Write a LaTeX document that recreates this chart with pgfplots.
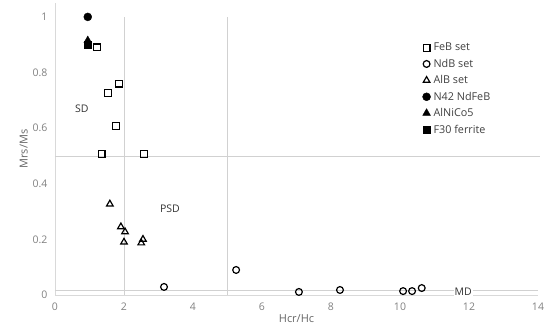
\documentclass[border=0pt]{standalone}
\usepackage{pgfplots}
\pgfplotsset{compat=1.18}
\usepackage{fontspec}
\setmainfont{Open Sans}
\begin{document}
\begin{tikzpicture}
\useasboundingbox (-55pt,-36pt) rectangle (495pt,295pt);
\begin{axis}[
 scale only axis, width=483pt, height=292pt,
 xmin=0,xmax=14,ymin=0,ymax=1.05,
 axis x line=bottom, axis y line=left,
 axis line style={draw=black!15,-,line width=0.8pt},
 xtick={0,2,...,14}, ytick={0,0.2,0.4,0.6,0.8,1},
 yticklabels={0,0.2,0.4,0.6,0.8,1},
 major tick length=0pt,
 ticklabel style={font=\fontsize{10.5}{12}\selectfont, text=black!50},
 xticklabel style={yshift=-4pt},
 yticklabel style={xshift=-4pt},
 /pgf/number format/assume math mode=true,
 xlabel={Hcr/Hc}, ylabel={Mrs/Ms},
 label style={font=\fontsize{11}{12}\selectfont, text=black!60},
 xlabel style={yshift=2pt},
 ylabel style={yshift=-2pt},
 legend style={at={(axis cs:10.62,0.914)}, anchor=north west, draw=none, fill=none,
   font=\fontsize{10.8}{11}\selectfont, text=black!75, row sep=4.3pt, inner sep=1pt,
   nodes={inner ysep=1.2pt, inner xsep=3pt}},
 legend cell align=left,
 clip=false,
]
\addplot[black!18, line width=0.8pt, forget plot] coordinates {(2,0) (2,1)};
\addplot[black!18, line width=0.8pt, forget plot] coordinates {(5,0) (5,1)};
\addplot[black!18, line width=0.8pt, forget plot] coordinates {(0,0.5) (14.05,0.5)};
\addplot[black!18, line width=0.8pt, forget plot] coordinates {(0,0.016) (14,0.016)};

\addplot[only marks, mark=square, mark size=3.4pt, line width=1.2pt, black] coordinates {
 (1.22,0.89) (1.54,0.727) (1.86,0.76) (1.77,0.608) (1.35,0.508) (2.58,0.508)};
\addlegendentry{FeB set}
\addplot[only marks, mark=o, mark size=3.4pt, line width=1.2pt, black] coordinates {
 (3.16,0.029) (5.25,0.09) (7.07,0.011) (8.26,0.018) (10.09,0.014) (10.35,0.014) (10.63,0.025)};
\addlegendentry{NdB set}
\addplot[only marks, mark=triangle, mark size=3.8pt, line width=1.2pt, black] coordinates {
 (1.59,0.327) (1.91,0.245) (2.03,0.227) (2.0,0.19) (2.55,0.20) (2.5,0.187)};
\addlegendentry{AlB set}
\addplot[only marks, mark=*, mark size=4pt, black] coordinates {(0.95,1.0)};
\addlegendentry{N42 NdFeB}
\addplot[only marks, mark=triangle*, mark size=4.5pt, black] coordinates {(0.95,0.915)};
\addlegendentry{AlNiCo5}
\addplot[only marks, mark=square*, mark size=3.6pt, black] coordinates {(0.95,0.9)};
\addlegendentry{F30 ferrite}

\node[font=\fontsize{10.5}{12}\selectfont, text=black!80] at (axis cs:0.78,0.67) {SD};
\node[font=\fontsize{10.5}{12}\selectfont, text=black!80] at (axis cs:3.33,0.31) {PSD};
\node[font=\fontsize{10.5}{12}\selectfont, text=black!80, fill=white, inner sep=1pt] at (axis cs:11.83,0.012) {MD};
\end{axis}
\end{tikzpicture}
\end{document}
